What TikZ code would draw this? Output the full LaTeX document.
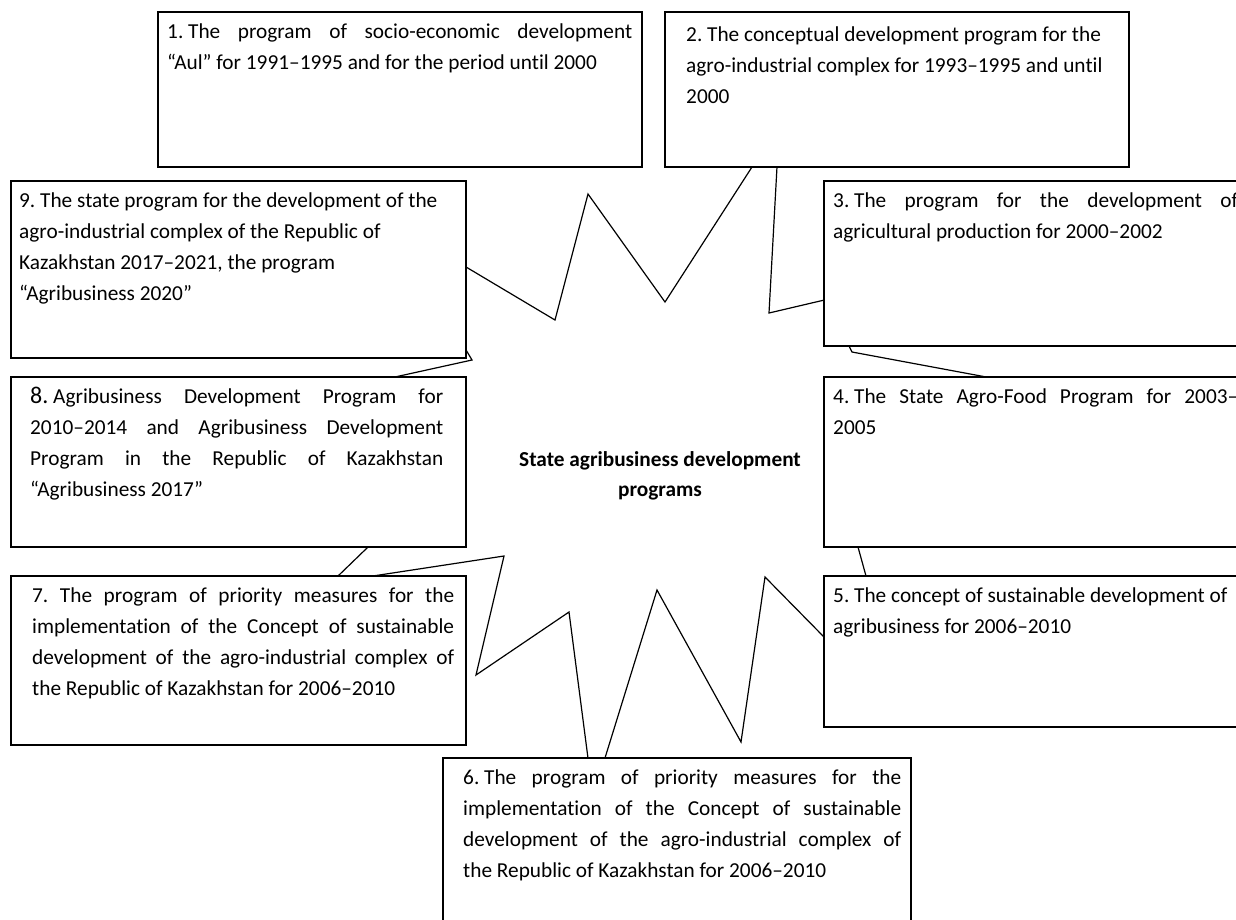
\documentclass[tikz,border=0pt]{standalone}
\usepackage{fontspec}
\setmainfont{Carlito}[Ligatures=NoCommon]
\newcommand{\fixsp}{\hspace{0.226em}}
\newcommand{\jline}[2]{\makebox[#1][s]{#2}}
\begin{document}
\frenchspacing
\begin{tikzpicture}[x=1pt,y=-1pt,
  box/.style={draw=black, line width=1.6pt, fill=white, inner sep=0pt, outer sep=0pt, anchor=north west},
  starline/.style={draw=black, line width=1.2pt, line join=miter},
  txt/.style={anchor=base west, inner sep=0pt, font=\fontsize{21.3}{31}\selectfont\frenchspacing},
  ctxt/.style={anchor=base, inner sep=0pt, font=\fontsize{21.3}{30}\selectfont\bfseries}]
\useasboundingbox (0,0) rectangle (1236,919);
\clip (0,0) rectangle (1236,919);
\fill[white] (0,0) rectangle (1236,919);
% star shape (its hidden corners lie under the boxes)
\draw[starline] (665,302) -- (779.3,124.6) -- (769,313) -- (850,294) -- (839,326)
  -- (852,352) -- (1040,387) -- (854,532.5) -- (874,605) -- (859.4,673) -- (765,577)
  -- (741,742) -- (657,590) -- (593,796.7) -- (569,612) -- (476,675)
  -- (504,556) -- (331.5,582.3) -- (388,527.7) -- (355,385.8) -- (472,360)
  -- (388.5,220.8) -- (555,320) -- (588,194) -- cycle;
% boxes
\node[box, minimum width=484pt, minimum height=155pt] (b1) at (158,12) {};
\node[box, minimum width=464pt, minimum height=155pt] (b2) at (665,12) {};
\node[box, minimum width=455pt, minimum height=177pt] (b9) at (11,181) {};
\node[box, minimum width=470pt, minimum height=165pt] (b3) at (824,181) {};
\node[box, minimum width=455pt, minimum height=170pt] (b8) at (11,377) {};
\node[box, minimum width=470pt, minimum height=170pt] (b4) at (824,377) {};
\node[box, minimum width=455pt, minimum height=169pt] (b7) at (11,576) {};
\node[box, minimum width=470pt, minimum height=151pt] (b5) at (824,576) {};
\node[box, minimum width=468pt, minimum height=190pt] (b6) at (443,758) {};
% texts
\node[txt] (t1) at (167,38) {\parbox[t]{465pt}{\jline{465pt}{1.\fixsp The program of socio-economic development}\\“Aul” for 1991–1995 and for the period until 2000}};
\node[txt] (t2) at (686,41) {\parbox[t]{440pt}{2. The conceptual development program for the\\agro-industrial complex for 1993–1995 and until\\2000}};
\node[txt] (t9) at (19,207) {\parbox[t]{445pt}{9. The state program for the development of the\\agro-industrial complex of the Republic of\\Kazakhstan 2017–2021, the program\\“Agribusiness 2020”}};
\node[txt] (t3) at (833,207) {\parbox[t]{405pt}{\jline{405pt}{3.\fixsp The program for the development of}\\agricultural production for 2000–2002}};
\node[txt] (t8) at (30,403) {\parbox[t]{413pt}{\jline{413pt}{{\fontsize{24}{31}\selectfont 8.}\fixsp Agribusiness Development Program for}\\\jline{413pt}{2010–2014 and Agribusiness Development}\\\jline{413pt}{Program in the Republic of Kazakhstan}\\“Agribusiness 2017”}};
\node[txt] (t4) at (833,403) {\parbox[t]{405pt}{\jline{405pt}{4.\fixsp The State Agro-Food Program for 2003–}\\2005}};
\node[txt] (t7) at (32,602) {\parbox[t]{422pt}{\jline{422pt}{7. The program of priority measures for the}\\\jline{422pt}{implementation of the Concept of sustainable}\\\jline{422pt}{development of the agro-industrial complex of}\\the Republic of Kazakhstan for 2006–2010}};
\node[txt] (t5) at (833,602) {\parbox[t]{430pt}{5. The concept of sustainable development of\\agribusiness for 2006–2010}};
\node[txt] (t6) at (463,784) {\parbox[t]{438pt}{\jline{438pt}{6.\fixsp The program of priority measures for the}\\\jline{438pt}{implementation of the Concept of sustainable}\\\jline{438pt}{development of the agro-industrial complex of}\\the Republic of Kazakhstan for 2006–2010}};
\node[ctxt] (c) at (660,466) {\parbox[t]{320pt}{\centering State agribusiness development\\programs}};
\end{tikzpicture}
\end{document}
